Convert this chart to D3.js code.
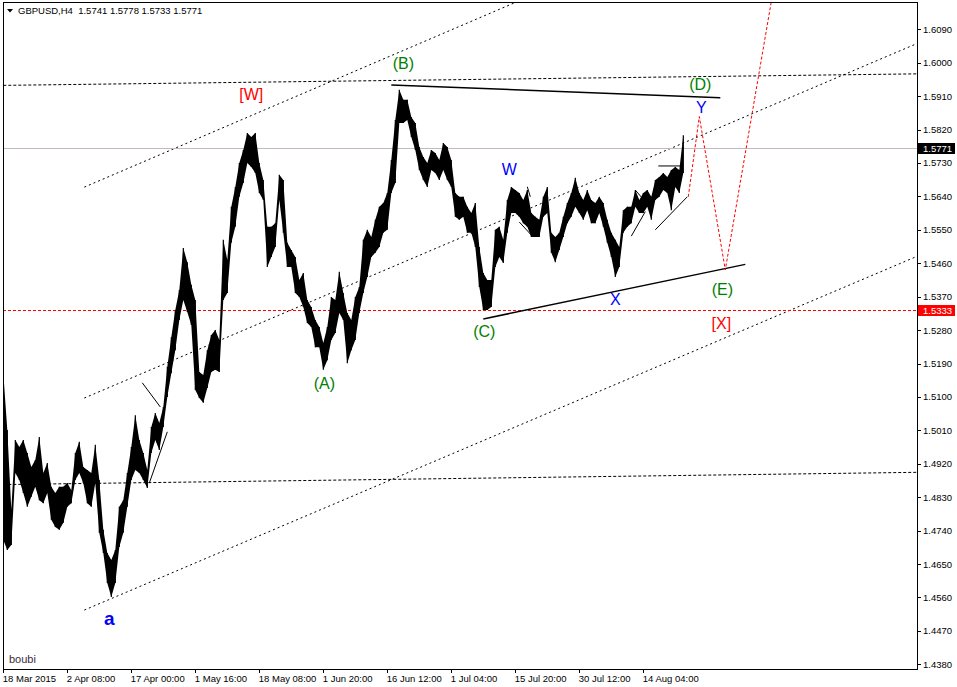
<!DOCTYPE html>
<html><head><meta charset="utf-8">
<script src="https://cdn.jsdelivr.net/npm/d3@7"></script>
<style>html,body{margin:0;padding:0;background:#fff;} svg{display:block;}</style>
</head><body>
<svg id="c" width="957" height="687"></svg>
<script>
// ---------- data ----------
const symbol = "GBPUSD,H4";
const lastOHLC = [1.5741, 1.5778, 1.5733, 1.5771];
const watermark = "boubi";
const xTickBars = [0, 64, 128, 192, 256, 320, 384, 448, 512, 576, 640];
const xTickLabels = ["18 Mar 2015", "2 Apr 08:00", "17 Apr 00:00", "1 May 16:00", "18 May 08:00",
  "1 Jun 20:00", "16 Jun 12:00", "1 Jul 04:00", "15 Jul 20:00", "30 Jul 12:00", "14 Aug 04:00"];
const yTicks = [1.6090, 1.6000, 1.5910, 1.5820, 1.5730, 1.5640, 1.5550, 1.5460, 1.5370, 1.5280,
  1.5190, 1.5100, 1.5010, 1.4920, 1.4830, 1.4740, 1.4650, 1.4560, 1.4470, 1.4380];
const barsPerGroup = 4; // each high/low pair below spans 4 H4 bars
const highs = [
  1.5164,1.5011,1.4796,1.4984,1.4965,1.4984,1.4949,1.4911,1.4930,1.4992,
  1.4895,1.4922,1.4858,1.4841,1.4858,1.4858,1.4868,1.4849,1.4949,1.4979,
  1.4911,1.4903,1.4895,1.4971,1.4876,1.4742,1.4680,1.4661,1.4688,1.4804,
  1.4822,1.4895,1.4965,1.5051,1.4984,1.4949,1.4903,1.5019,1.5057,1.5030,
  1.5073,1.5181,1.5261,1.5334,1.5388,1.5501,1.5463,1.5402,1.5361,1.5167,
  1.5159,1.5226,1.5267,1.5280,1.5253,1.5523,1.5469,1.5612,1.5665,1.5730,
  1.5765,1.5811,1.5800,1.5811,1.5730,1.5684,1.5558,1.5558,1.5568,1.5698,
  1.5684,1.5515,1.5496,1.5477,1.5415,1.5434,1.5361,1.5342,1.5307,1.5288,
  1.5245,1.5288,1.5369,1.5361,1.5437,1.5380,1.5326,1.5307,1.5369,1.5396,
  1.5523,1.5550,1.5531,1.5577,1.5612,1.5622,1.5649,1.5738,1.5846,1.5927,
  1.5900,1.5900,1.5854,1.5838,1.5773,1.5746,1.5730,1.5765,1.5757,1.5738,
  1.5784,1.5773,1.5738,1.5649,1.5639,1.5639,1.5612,1.5595,1.5622,1.5504,
  1.5434,1.5415,1.5415,1.5550,1.5558,1.5523,1.5630,1.5665,1.5657,1.5649,
  1.5630,1.5657,1.5595,1.5585,1.5577,1.5639,1.5665,1.5542,1.5531,1.5542,
  1.5585,1.5622,1.5649,1.5690,1.5649,1.5630,1.5657,1.5630,1.5622,1.5639,
  1.5622,1.5577,1.5542,1.5523,1.5504,1.5603,1.5612,1.5612,1.5657,1.5630,
  1.5649,1.5657,1.5639,1.5684,1.5692,1.5703,1.5692,1.5711,1.5719,1.5711,
  1.5805];
const lows = [
  1.4715,1.4688,1.4701,1.4895,1.4876,1.4841,1.4804,1.4831,1.4858,1.4822,
  1.4814,1.4841,1.4769,1.4750,1.4742,1.4761,1.4804,1.4814,1.4876,1.4895,
  1.4868,1.4814,1.4804,1.4868,1.4734,1.4680,1.4599,1.4561,1.4599,1.4696,
  1.4734,1.4804,1.4876,1.4903,1.4895,1.4876,1.4855,1.4949,1.4984,1.4957,
  1.5019,1.5100,1.5164,1.5226,1.5307,1.5361,1.5329,1.5294,1.5119,1.5097,
  1.5084,1.5124,1.5167,1.5173,1.5167,1.5361,1.5380,1.5515,1.5558,1.5639,
  1.5676,1.5730,1.5719,1.5703,1.5649,1.5630,1.5450,1.5477,1.5504,1.5630,
  1.5542,1.5450,1.5450,1.5380,1.5369,1.5342,1.5299,1.5288,1.5234,1.5234,
  1.5173,1.5199,1.5253,1.5272,1.5326,1.5307,1.5191,1.5226,1.5253,1.5326,
  1.5380,1.5423,1.5477,1.5488,1.5504,1.5542,1.5550,1.5649,1.5676,1.5838,
  1.5838,1.5846,1.5800,1.5765,1.5711,1.5684,1.5665,1.5711,1.5703,1.5684,
  1.5711,1.5684,1.5665,1.5585,1.5577,1.5585,1.5542,1.5542,1.5504,1.5396,
  1.5334,1.5334,1.5342,1.5450,1.5477,1.5461,1.5542,1.5595,1.5595,1.5585,
  1.5568,1.5558,1.5531,1.5531,1.5531,1.5585,1.5595,1.5488,1.5463,1.5496,
  1.5531,1.5568,1.5585,1.5612,1.5595,1.5577,1.5603,1.5568,1.5568,1.5595,
  1.5558,1.5515,1.5477,1.5423,1.5450,1.5542,1.5558,1.5568,1.5612,1.5595,
  1.5595,1.5612,1.5577,1.5630,1.5639,1.5657,1.5649,1.5603,1.5665,1.5649,
  1.5703];
const alertPrice = 1.5333;
const currentPrice = 1.5771;
// chart objects: [bar, price] endpoints
const levelLines = [[[0, 1.5939], [914, 1.5970]], [[0, 1.4864], [914, 1.4897]]];
const channelLines = [[[81, 1.5665], [914, 1.6626]], [[81, 1.5097], [914, 1.6052]], [[81, 1.4526], [914, 1.5479]]];
const triangleLines = [[[388, 1.5940], [717, 1.5906]], [[480, 1.5310], [742, 1.5457]]];
const thinLines = [
  [[139, 1.5138], [157, 1.5073]], [[146, 1.4868], [164, 1.5006]],
  [[516, 1.5571], [528, 1.5536]], [[524, 1.5666], [527, 1.5639]],
  [[628, 1.5533], [642, 1.5599]], [[632, 1.5657], [642, 1.5626]],
  [[652, 1.5550], [684, 1.5639]], [[655, 1.5722], [677, 1.5722]]];
const projectionPath = [[685, 1.5639], [696, 1.5855], [722, 1.5442], [774, 1.6259]];
const waveLabels = [
  {t: "[W]", bar: 248, p: 1.5900, c: "#ff0000"},
  {t: "(B)", bar: 400, p: 1.5983, c: "#008000"},
  {t: "(D)", bar: 697, p: 1.5927, c: "#008000"},
  {t: "Y",   bar: 698, p: 1.5865, c: "#0000ff"},
  {t: "W",   bar: 506, p: 1.5698, c: "#0000ff"},
  {t: "X",   bar: 612, p: 1.5348, c: "#0000ff"},
  {t: "(C)", bar: 481, p: 1.5261, c: "#008000"},
  {t: "(A)", bar: 321, p: 1.5121, c: "#008000"},
  {t: "(E)", bar: 719, p: 1.5375, c: "#008000"},
  {t: "[X]", bar: 718, p: 1.5283, c: "#ff0000"},
  {t: "a",   bar: 106, p: 1.4486, c: "#0000ff", bold: true}];

// ---------- layout ----------
const L = 3, R = 917, T = 2, B = 669;
const svg = d3.select("#c");
const x = d3.scaleLinear().domain([0, 914]).range([3.3, 917.3]);
const y = d3.scaleLinear().domain([1.4380, 1.6090]).range([664.3, 29.3]);
const axisFont = "Liberation Sans, Arial, sans-serif";

svg.append("defs").append("clipPath").attr("id", "plot")
  .append("rect").attr("x", L).attr("y", T).attr("width", R - L).attr("height", B - T);

const g = svg.append("g").attr("clip-path", "url(#plot)");

const seg = d3.line().x(d => x(d[0])).y(d => y(d[1]));
// level (near-horizontal) dashed lines
g.selectAll(".lvl").data(levelLines).join("path")
  .attr("d", seg).attr("fill", "none").attr("stroke", "#000").attr("stroke-width", 1)
  .attr("stroke-dasharray", "3,2");
// channel lines
g.selectAll(".ch").data(channelLines).join("path")
  .attr("d", seg).attr("fill", "none").attr("stroke", "#000").attr("stroke-width", 1)
  .attr("stroke-dasharray", "2,3");

// alert red dashed line
g.append("line").attr("x1", L).attr("x2", R).attr("y1", Math.round(y(alertPrice)) + 0.5).attr("y2", Math.round(y(alertPrice)) + 0.5)
  .attr("stroke", "#ff0000").attr("stroke-width", 1).attr("stroke-dasharray", "3,2");
// current price line
g.append("line").attr("x1", L).attr("x2", R).attr("y1", Math.round(y(currentPrice)) + 0.5).attr("y2", Math.round(y(currentPrice)) + 0.5)
  .attr("stroke", "#c4b8c4").attr("stroke-width", 1);

// price bars as high/low band
const bars = highs.map((h, i) => ({bar: i * barsPerGroup, hi: h, lo: lows[i]}));
g.append("path").datum(bars)
  .attr("d", d3.area().x(d => x(d.bar)).y0(d => y(d.lo)).y1(d => y(d.hi)))
  .attr("fill", "#000");
g.selectAll(".bar").data(bars).join("line")
  .attr("x1", d => x(d.bar)).attr("x2", d => x(d.bar))
  .attr("y1", d => y(d.hi)).attr("y2", d => y(d.lo))
  .attr("stroke", "#000").attr("stroke-width", 1.2);

// solid triangle lines
g.selectAll(".tri").data(triangleLines).join("path")
  .attr("d", seg).attr("fill", "none").attr("stroke", "#000").attr("stroke-width", 1.5);
g.selectAll(".thin").data(thinLines).join("path")
  .attr("d", seg).attr("fill", "none").attr("stroke", "#000").attr("stroke-width", 1);

// projection path
g.append("path").datum(projectionPath).attr("d", seg).attr("fill", "none")
  .attr("stroke", "#ff0000").attr("stroke-width", 1).attr("stroke-dasharray", "3,2");

// wave labels
g.selectAll(".wl").data(waveLabels).join("text")
  .attr("x", d => x(d.bar)).attr("y", d => y(d.p))
  .attr("text-anchor", "middle")
  .attr("font-family", "Liberation Sans, Arial, sans-serif")
  .attr("font-size", d => d.bold ? 19 : 16)
  .attr("font-weight", d => d.bold ? "bold" : "normal")
  .attr("fill", d => d.c).text(d => d.t);

// watermark
svg.append("text").attr("x", 9).attr("y", 663).attr("font-family", axisFont).attr("font-size", 11)
  .attr("fill", "#3a2a3a").text(watermark);

// frame
svg.append("rect").attr("x", L + 0.5).attr("y", T + 0.5).attr("width", R - L).attr("height", B - T)
  .attr("fill", "none").attr("stroke", "#000").attr("stroke-width", 1);

// right axis
const yAxis = svg.append("g");
yAxis.selectAll("line").data(yTicks).join("line")
  .attr("x1", R).attr("x2", R + 4).attr("y1", d => Math.round(y(d)) + 0.5).attr("y2", d => Math.round(y(d)) + 0.5)
  .attr("stroke", "#000");
yAxis.selectAll("text").data(yTicks).join("text")
  .attr("x", R + 6).attr("y", d => y(d) + 3.5)
  .attr("font-family", axisFont).attr("font-size", 9.5).attr("fill", "#000")
  .text(d => d.toFixed(4));

// price tags
function tag(price, bg) {
  const yy = Math.round(y(price));
  svg.append("rect").attr("x", R + 1).attr("y", yy - 5).attr("width", 37).attr("height", 11).attr("fill", bg);
  svg.append("text").attr("x", R + 6).attr("y", yy + 4).attr("font-family", axisFont).attr("font-size", 9.5)
    .attr("fill", "#fff").text(price.toFixed(4));
}
tag(currentPrice, "#000");
tag(alertPrice, "#ff0000");

// bottom axis
const xAxis = svg.append("g");
xAxis.selectAll("line").data(xTickBars).join("line")
  .attr("x1", d => Math.round(x(d)) + 0.5).attr("x2", d => Math.round(x(d)) + 0.5)
  .attr("y1", B).attr("y2", B + 4).attr("stroke", "#000");
xAxis.selectAll("text").data(xTickBars).join("text")
  .attr("x", d => x(d) - 0.5).attr("y", B + 13)
  .attr("font-family", axisFont).attr("font-size", 9.5).attr("fill", "#000")
  .text((d, i) => xTickLabels[i]);

// header
svg.append("path").attr("d", "M7,9 L13,9 L10,12.5 Z").attr("fill", "#000");
svg.append("text").attr("x", 18).attr("y", 14).attr("font-family", axisFont).attr("font-size", 9.5)
  .attr("fill", "#000").attr("xml:space", "preserve")
  .text(symbol + "  " + lastOHLC.map(v => v.toFixed(4)).join(" "));
</script>
</body></html>
